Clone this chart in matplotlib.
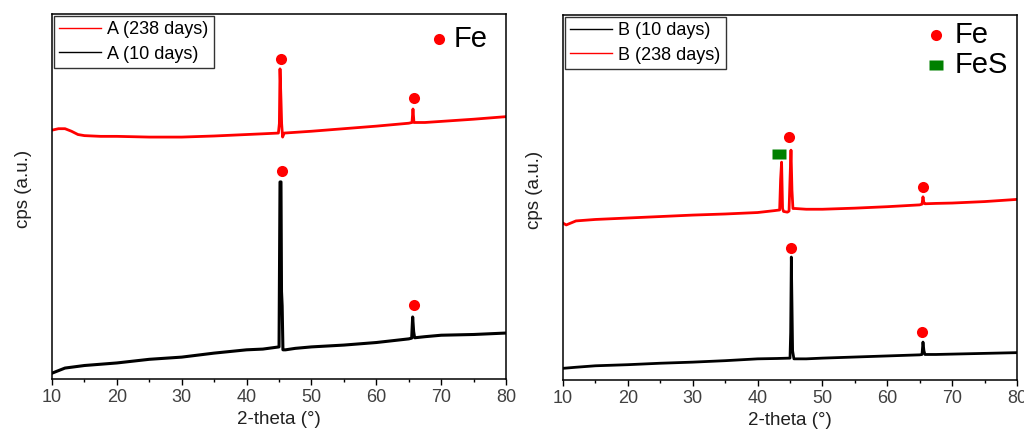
# -*- coding: utf-8 -*-

import matplotlib
matplotlib.use("Agg")
import matplotlib.pyplot as plt
from matplotlib.lines import Line2D

plt.rcParams['font.family'] = ['Liberation Sans', 'DejaVu Sans']

# ---- sample A (left panel) ----
a10_x = [10, 11, 12, 15, 20, 25, 30, 35, 40, 42.5, 45.0, 45.15, 45.3, 45.38, 45.48, 45.6,
         46, 47.5, 50, 55, 60, 62.5, 65, 65.45, 65.6, 65.75, 65.9, 67.5, 70, 75, 80]
a10_y = [1.6, 2.3, 3.0, 3.7, 4.4, 5.4, 6.0, 7.1, 8.0, 8.2, 8.8, 54, 54, 24, 20, 8.0,
         8.0, 8.4, 8.8, 9.3, 10, 10.5, 11, 11.2, 17, 13, 11.3, 11.6, 12, 12.2, 12.6]

a238_x = [10, 11, 12, 13, 14, 15, 17.5, 20, 25, 30, 35, 40, 42.5, 44.9, 45.05, 45.15,
          45.3, 45.4, 45.55, 45.8, 47.5, 50, 55, 60, 62.5, 65, 65.5, 65.65, 65.8, 67.5,
          70, 75, 80]
a238_y = [68.2, 68.6, 68.6, 67.9, 67.0, 66.7, 66.5, 66.5, 66.3, 66.3, 66.6, 67.0, 67.2,
          67.4, 70, 85, 76.5, 70, 66.3, 67.4, 67.6, 67.9, 68.6, 69.3, 69.7, 70.1, 70.3,
          74, 70.3, 70.3, 70.6, 71.2, 71.9]

a_fe_x = [45.5, 65.85, 45.3, 65.75]
a_fe_y = [57, 20.3, 87.6, 76.9]

# ---- sample B (right panel) ----
b10_x = [10, 12, 15, 20, 25, 30, 35, 40, 43, 45.0, 45.1, 45.2, 45.3, 45.4, 45.6, 47.5,
         50, 55, 60, 65, 65.35, 65.5, 65.65, 65.8, 67.5, 70, 75, 80]
b10_y = [3.2, 3.5, 3.9, 4.2, 4.6, 4.9, 5.3, 5.8, 5.9, 6.0, 13, 33.7, 21, 8, 5.8, 5.8,
         6.0, 6.3, 6.6, 6.9, 7.0, 10.4, 8.0, 7.0, 7.0, 7.1, 7.3, 7.5]

b238_x = [10, 10.5, 12, 15, 20, 25, 30, 35, 37.5, 40, 42.5, 43.4, 43.55, 43.7, 43.85,
          44.0, 44.6, 44.85, 45.0, 45.15, 45.3, 45.45, 45.8, 47.5, 50, 55, 60, 65, 65.35,
          65.5, 65.65, 65.8, 67.5, 70, 75, 80]
b238_y = [43.0, 42.5, 43.6, 44.0, 44.4, 44.8, 45.2, 45.5, 45.7, 45.9, 46.4, 46.6, 55,
          59.7, 47, 46.2, 46.0, 46.3, 55, 63, 52, 47, 47, 46.8, 46.8, 47.1, 47.5, 48.0,
          48.2, 50.2, 48.5, 48.3, 48.4, 48.5, 48.9, 49.5]

b_fe_x = [44.85, 65.5, 45.15, 65.4]
b_fe_y = [66.7, 52.8, 36.1, 13.1]
b_fes_x = [43.25]
b_fes_y = [61.9]

xticks = [10, 20, 30, 40, 50, 60, 70, 80]

RED = '#ff0000'
GREEN = '#008000'
TICKCOL = '#404040'


def style_axes(ax):
    ax.set_xlim(10, 80)
    ax.set_ylim(0, 100)
    ax.set_xticks(xticks)
    ax.set_xticks(range(15, 80, 10), minor=True)
    ax.set_yticks([])
    ax.tick_params(axis='x', which='major', direction='out', length=4, width=1,
                   labelsize=13, labelcolor=TICKCOL, pad=3)
    ax.tick_params(axis='x', which='minor', direction='out', length=2.5, width=1)
    for s in ax.spines.values():
        s.set_linewidth(1.1)
    ax.set_xlabel("2-theta (°)", fontsize=13.5, color='#202020', labelpad=4)
    ax.set_ylabel("cps (a.u.)", fontsize=13.5, color='#202020')
    ax.yaxis.set_label_coords(-0.045, 0.52)


def add_legend(ax, labels, colors):
    handles = [Line2D([], [], color=c, lw=1.0) for c in colors]
    leg = ax.legend(handles, labels, loc='upper left', fontsize=13, frameon=True,
                    fancybox=False, borderaxespad=0.1, handlelength=2.3,
                    handletextpad=0.35, labelspacing=0.4, borderpad=0.3)
    leg.get_frame().set_edgecolor('black')
    leg.get_frame().set_linewidth(1.0)


fig = plt.figure(figsize=(10.24, 4.37), dpi=100)
ax1 = fig.add_axes([0.0508, 0.1327, 0.4434, 0.835])
ax2 = fig.add_axes([0.5498, 0.1304, 0.4434, 0.835])

# left panel
ax1.plot(a238_x, a238_y, color=RED, lw=2.0)
ax1.plot(a10_x, a10_y, color='black', lw=2.2)
ax1.plot(a_fe_x, a_fe_y, 'o', color=RED, ms=8, mec='none')
style_axes(ax1)
add_legend(ax1, ["A (238 days)", "A (10 days)"], [RED, 'black'])
ax1.plot([0.852], [0.932], 'o', color=RED, ms=8, mec='none', transform=ax1.transAxes)
ax1.text(0.885, 0.932, "Fe", fontsize=21, va='center', ha='left', transform=ax1.transAxes)

# right panel
ax2.plot(b10_x, b10_y, color='black', lw=2.0)
ax2.plot(b238_x, b238_y, color=RED, lw=2.0)
ax2.plot(b_fe_x, b_fe_y, 'o', color=RED, ms=8, mec='none')
rect = [(-1.4, -1), (1.4, -1), (1.4, 1), (-1.4, 1), (-1.4, -1)]
ax2.plot(b_fes_x, b_fes_y, marker=rect, ls='none', color=GREEN, ms=10, mec='none')
style_axes(ax2)
add_legend(ax2, ["B (10 days)", "B (238 days)"], ['black', RED])
ax2.plot([0.822], [0.945], 'o', color=RED, ms=8, mec='none', transform=ax2.transAxes)
ax2.plot([0.822], [0.862], marker=rect, color=GREEN, ms=10, mec='none',
         transform=ax2.transAxes)
ax2.text(0.862, 0.945, "Fe", fontsize=21, va='center', ha='left', transform=ax2.transAxes)
ax2.text(0.862, 0.862, "FeS", fontsize=21, va='center', ha='left', transform=ax2.transAxes)

plt.savefig("out.png", dpi=100)
